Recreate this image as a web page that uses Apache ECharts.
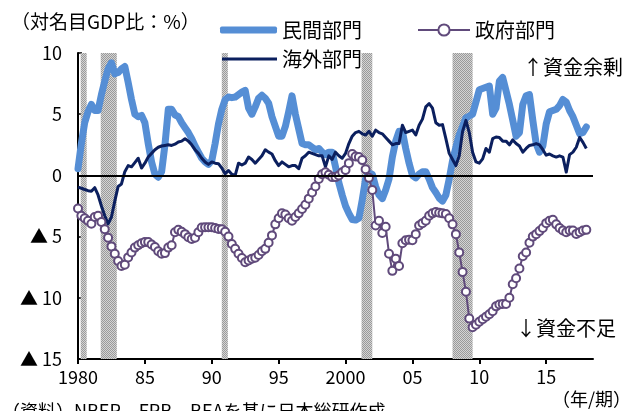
<!DOCTYPE html>
<html>
<head>
<meta charset="utf-8">
<script src="https://cdn.jsdelivr.net/npm/echarts@6/dist/echarts.min.js"></script>
<style>
  html, body { margin: 0; padding: 0; background: #fff; }
  #chart { width: 639px; height: 411px; }
</style>
</head>
<body>
<div id="chart"></div>
<script>
// Quarterly financial balances by sector, % of nominal GDP, 1980Q1–2018Q1
const startYear = 1980;

const privateSector = [
  0.55, 2.6, 4.3, 5.2,
  5.8, 5.3, 5.3, 6.6,
  7.7, 8.7, 9.2, 8.3,
  8.4, 8.7, 8.9, 7.6,
  6.2, 5.0, 4.8, 4.9,
  4.3, 2.6, 1.1, 0.1,
  -0.15, 0.3, 2.5, 5.4,
  5.4, 4.95, 4.8, 4.3,
  3.9, 3.5, 3.0, 2.4,
  1.9, 1.4, 1.1, 0.9,
  1.2, 2.6, 4.2, 5.4,
  6.2, 6.4, 6.35, 6.4,
  6.6, 6.8, 6.95, 5.5,
  5.0, 5.6, 6.3, 6.55,
  6.3, 5.9, 4.8, 4.0,
  3.2, 3.2, 4.0, 5.2,
  6.5, 5.0, 3.8, 2.6,
  2.5, 2.5, 2.3, 2.1,
  2.2, 1.9, 1.7, 1.9,
  1.9, 0.7, -0.6, -1.6,
  -2.5, -3.1, -3.6, -3.65,
  -3.5, -2.0, -0.3, 0.2,
  0.1, -0.9, -1.6, -1.9,
  -1.2, -0.3, 1.5, 2.8,
  3.6, 3.6, 2.2, 1.0,
  0.0, -0.2, 0.1, 0.3,
  0.3, -0.3, -1.0, -1.4,
  -1.85, -2.1, -1.6, -0.3,
  1.2, 2.3, 3.3, 4.0,
  4.7, 4.85, 5.0, 6.0,
  7.0, 7.1, 7.2, 7.3,
  5.0, 5.5, 7.7, 8.0,
  6.9, 5.8, 4.5, 3.2,
  3.5, 5.8, 6.5, 6.6,
  4.5, 2.6, 1.9, 2.4,
  4.2, 5.2, 5.3, 5.4,
  5.7, 6.2, 6.0, 5.3,
  4.8, 4.1, 3.4, 3.5,
  3.96
];

const foreignSector = [
  -0.96, -1.05, -1.15, -1.25,
  -1.3, -1.0, -1.6, -2.5,
  -3.3, -3.96, -3.4, -2.1,
  -0.9, -0.7, 0.3, 0.8,
  0.7, 1.05, 1.4, 0.6,
  1.0, 1.5, 1.8, 2.1,
  2.3, 2.4, 2.45, 2.5,
  2.45, 2.55, 2.73, 2.8,
  3.0, 2.8, 2.5, 2.1,
  1.8, 1.4, 1.1, 0.9,
  1.1, 1.0, 0.96, 0.6,
  0.14, 0.4, 0.1, 0.0,
  1.0, 0.85, 1.0, 1.5,
  1.3, 1.0, 1.3, 1.6,
  2.1, 1.9, 1.75, 1.2,
  0.8, 1.1, 0.9, 0.7,
  0.8, 0.8, 0.55, 1.4,
  1.6, 1.9, 1.8, 1.7,
  1.6, 1.6, 0.7, 1.6,
  1.3, 1.9, 1.6, 1.4,
  1.8, 2.6, 3.2, 3.5,
  3.6, 3.4, 3.3, 3.6,
  3.2, 3.7, 3.5, 3.4,
  3.1, 2.8, 2.5, 2.6,
  2.6, 4.1, 3.5, 3.6,
  3.7, 3.3, 4.1, 4.6,
  5.6, 5.87, 5.5, 4.3,
  4.1, 4.15, 3.0, 1.8,
  1.3, 0.8, 1.6, 3.6,
  4.5, 3.5, 1.9, 1.1,
  1.0, 1.35, 2.2, 1.9,
  3.0, 3.14, 3.1, 2.8,
  2.8, 2.5, 2.9, 2.6,
  2.4, 1.9, 2.2, 2.45,
  2.5, 2.6, 2.5, 2.1,
  1.65, 1.75, 1.6, 1.5,
  1.6, 1.5, 0.27, 1.7,
  1.9, 2.3, 3.1, 2.7,
  2.2
];

const governmentSector = [
  -2.7, -3.3, -3.5, -3.7,
  -3.95, -3.4, -3.3, -3.8,
  -4.4, -5.1, -5.8, -6.4,
  -7.0, -7.4, -7.3, -6.7,
  -6.3, -5.9, -5.7, -5.55,
  -5.45, -5.45, -5.65, -5.85,
  -6.2, -6.4, -6.35, -5.9,
  -5.7, -4.65, -4.45, -4.6,
  -4.8, -5.05, -5.2, -5.1,
  -4.65, -4.25, -4.24, -4.24,
  -4.24, -4.3, -4.37, -4.4,
  -4.6, -5.0, -5.6, -6.0,
  -6.4, -6.75, -7.1, -6.95,
  -6.8, -6.72, -6.5, -6.2,
  -6.0, -5.5, -4.9, -4.0,
  -3.5, -3.1, -3.2, -3.5,
  -3.7, -3.4, -3.1, -2.75,
  -2.4, -1.9, -1.4, -0.9,
  -0.3, 0.1, 0.25, 0.05,
  -0.14, -0.14, 0.0, 0.25,
  0.45, 1.0, 1.75, 1.55,
  1.5, 1.25, 0.5, -0.2,
  -1.2, -4.1, -3.7, -4.7,
  -4.2, -6.4, -7.8, -6.8,
  -7.4, -5.55, -5.3, -5.25,
  -5.3, -4.8, -4.1, -3.9,
  -3.7, -3.3, -3.1, -3.0,
  -3.05, -3.1, -3.15, -3.5,
  -4.0, -4.8, -6.3, -7.9,
  -9.5, -11.7, -12.4, -12.2,
  -11.95, -11.75, -11.55, -11.35,
  -11.1, -10.7, -10.55, -10.5,
  -10.5, -10.0, -8.9, -8.4,
  -7.6, -6.6, -6.3, -5.5,
  -5.0, -4.8, -4.55, -4.3,
  -3.9, -3.7, -3.63, -4.0,
  -4.3, -4.5, -4.65, -4.5,
  -4.5, -4.78, -4.65, -4.5,
  -4.45
];

// US recessions (NBER), in fractional years
const recessions = [
  [1980.2, 1980.65],
  [1981.7, 1982.9],
  [1990.75, 1991.2],
  [2001.2, 2002.0],
  [2008.0, 2009.5]
];

const xTickYears = [1980, 1985, 1990, 1995, 2000, 2005, 2010, 2015];

const seriesNames = ['民間部門', '海外部門', '政府部門'];

const toPoints = arr => arr.map((v, i) => [startYear + i / 4, v]);

// Halftone grey fill for the recession bands
function halftone() {
  const c = document.createElement('canvas');
  c.width = 2; c.height = 2;
  const g = c.getContext('2d');
  g.fillStyle = '#d4d4d4'; g.fillRect(0, 0, 2, 2);
  g.fillStyle = '#9a9a9a'; g.fillRect(0, 0, 1, 1); g.fillRect(1, 1, 1, 1);
  return c;
}

const font = 'Noto Sans CJK JP';
const legendText = { fontFamily: font, fontSize: 20, lineHeight: 20, color: '#000' };

const chart = echarts.init(document.getElementById('chart'), null, { renderer: 'canvas' });

chart.setOption({
  animation: false,
  backgroundColor: '#fff',
  textStyle: { fontFamily: font, color: '#000' },
  grid: { left: 78, right: 46, top: 53, bottom: 52 },
  title: {
    text: '（対名目GDP比：%）',
    left: 6, top: 7,
    textStyle: { fontFamily: font, fontSize: 19, fontWeight: 'normal', color: '#000' }
  },
  legend: [
    {
      data: [{ name: seriesNames[0], icon: 'roundRect' }],
      left: 215, top: 15,
      itemWidth: 57, itemHeight: 7,
      textStyle: legendText
    },
    {
      data: [{ name: seriesNames[1], icon: 'rect' }],
      left: 217, top: 44,
      itemWidth: 55, itemHeight: 3,
      textStyle: legendText
    },
    {
      data: [seriesNames[2]],
      left: 412, top: 15,
      itemWidth: 52, itemHeight: 14,
      textStyle: legendText
    }
  ],
  xAxis: {
    type: 'value',
    min: 1980, max: 2018.5,
    interval: 5,
    axisLine: { show: true, onZero: false, lineStyle: { color: '#000', width: 2 } },
    axisTick: { show: true, inside: false, length: 5, customValues: xTickYears, lineStyle: { color: '#000', width: 2 } },
    splitLine: { show: false },
    axisLabel: {
      customValues: xTickYears,
      margin: 9,
      fontSize: 18, color: '#000', fontFamily: font,
      formatter: v => (v === 1980 || v === 2000) ? String(v) : String(v % 100).padStart(2, '0')
    }
  },
  yAxis: {
    type: 'value',
    min: -15, max: 10, interval: 5,
    axisLine: { show: true, lineStyle: { color: '#000', width: 2 } },
    axisTick: { show: true, inside: true, length: 4, lineStyle: { color: '#000', width: 1.5 } },
    splitLine: { show: false },
    axisLabel: {
      margin: 16,
      fontSize: 18, color: '#000', fontFamily: font,
      formatter: v => v < 0 ? '▲ ' + (-v) : String(v)
    }
  },
  series: [
    {
      name: seriesNames[0],
      type: 'line',
      z: 2,
      data: toPoints(privateSector),
      showSymbol: false, symbol: 'none',
      lineStyle: { color: '#558ED5', width: 7, cap: 'round', join: 'round' },
      itemStyle: { color: '#558ED5' },
      markArea: {
        silent: true,
        itemStyle: { color: { image: halftone(), repeat: 'repeat' }, opacity: 1 },
        data: recessions.map(r => [{ xAxis: r[0] }, { xAxis: r[1] }])
      }
    },
    {
      name: seriesNames[1],
      type: 'line',
      z: 3,
      data: toPoints(foreignSector),
      showSymbol: false, symbol: 'none',
      lineStyle: { color: '#0B1F5E', width: 3, join: 'round' },
      itemStyle: { color: '#0B1F5E' },
      markLine: {
        silent: true,
        symbol: 'none',
        label: { show: false },
        lineStyle: { color: '#000', width: 2, type: 'solid' },
        data: [{ yAxis: 0 }]
      }
    },
    {
      name: seriesNames[2],
      type: 'line',
      z: 4,
      data: toPoints(governmentSector),
      symbol: 'circle', symbolSize: 8, showSymbol: true,
      lineStyle: { color: '#604A7B', width: 2 },
      itemStyle: { color: '#fff', borderColor: '#604A7B', borderWidth: 2 }
    }
  ],
  graphic: [
    { type: 'text', left: 523, top: 57,
      style: { text: '↑資金余剰', font: '20px "Noto Sans CJK JP"', fill: '#000' } },
    { type: 'text', left: 516, top: 318,
      style: { text: '↓資金不足', font: '20px "Noto Sans CJK JP"', fill: '#000' } },
    { type: 'text', left: 552, top: 390,
      style: { text: '（年/期）', font: '18px "Noto Sans CJK JP"', fill: '#000' } },
    { type: 'text', left: 2, top: 402,
      style: { text: '（資料）NBER、FRB、BEAを基に日本総研作成', font: '18px "Noto Sans CJK JP"', fill: '#000' } }
  ]
});
</script>
</body>
</html>
